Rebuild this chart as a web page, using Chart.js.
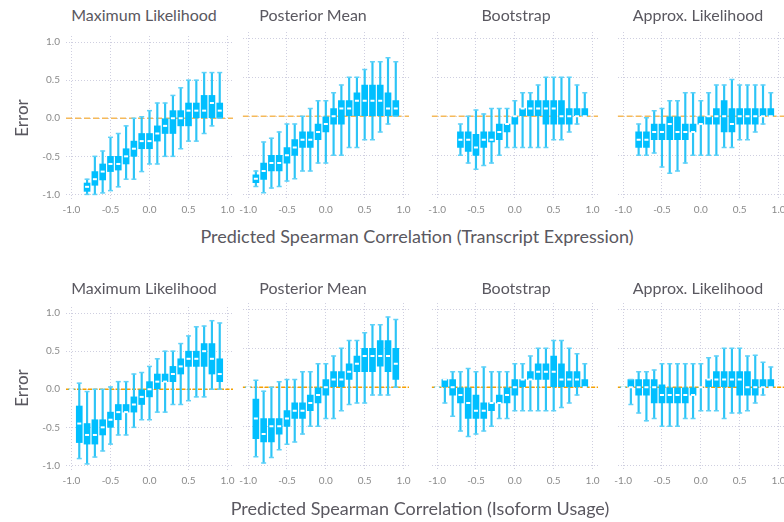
<!DOCTYPE html>
<html>
<head>
<meta charset="utf-8">
<script src="https://cdn.jsdelivr.net/npm/chart.js@4.4.1/dist/chart.umd.min.js"></script>
<style>
  body { margin: 0; background: #fff; width: 784px; height: 522px; position: relative; overflow: hidden; font-family: Lato, 'Open Sans', sans-serif; }
  canvas { position: absolute; }
  .lbl { position: absolute; color: #5a5860; white-space: nowrap; line-height: 1; transform: translate(-50%, -50%); }
  .panel-title { font-size: 16px; }
  .axis-title { font-size: 18px; }
  .y-title { font-size: 17px; transform: translate(-50%, -50%) rotate(-90deg); }
</style>
</head>
<body>
<script>
// bin centres (predicted correlation)
const binsFrom10 = [-1.0, -0.9, -0.8, -0.7, -0.6, -0.5, -0.4, -0.3, -0.2, -0.1, 0.0, 0.1, 0.2, 0.3, 0.4, 0.5, 0.6, 0.7, 0.8, 0.9];
const binsFrom09 = [-0.9, -0.8, -0.7, -0.6, -0.5, -0.4, -0.3, -0.2, -0.1, 0.0, 0.1, 0.2, 0.3, 0.4, 0.5, 0.6, 0.7, 0.8, 0.9];
const binsFrom08 = [-0.8, -0.7, -0.6, -0.5, -0.4, -0.3, -0.2, -0.1, 0.0, 0.1, 0.2, 0.3, 0.4, 0.5, 0.6, 0.7, 0.8, 0.9];
const binsFrom07 = [-0.7, -0.6, -0.5, -0.4, -0.3, -0.2, -0.1, 0.0, 0.1, 0.2, 0.3, 0.4, 0.5, 0.6, 0.7, 0.8, 0.9];
const tickValues = [-1.0, -0.5, 0.0, 0.5, 1.0];

// error per bin: [min, q1, median, q3, max]
const exprML = [
  [-1.0, -0.96, -0.9, -0.85, -0.8], [-1.0, -0.88, -0.8, -0.7, -0.5], [-0.98, -0.81, -0.7, -0.6, -0.43],
  [-0.95, -0.7, -0.6, -0.5, -0.25], [-0.9, -0.68, -0.6, -0.5, -0.2], [-0.8, -0.6, -0.5, -0.4, -0.1],
  [-0.8, -0.5, -0.4, -0.3, 0.0], [-0.7, -0.4, -0.3, -0.2, 0.02], [-0.6, -0.4, -0.3, -0.2, 0.1],
  [-0.6, -0.3, -0.2, -0.1, 0.2], [-0.5, -0.2, -0.1, 0.0, 0.2], [-0.5, -0.2, 0.0, 0.1, 0.3],
  [-0.4, -0.1, 0.0, 0.1, 0.4], [-0.3, -0.1, 0.1, 0.2, 0.5], [-0.3, 0.0, 0.1, 0.2, 0.5],
  [-0.2, 0.0, 0.1, 0.3, 0.6], [-0.1, 0.0, 0.2, 0.3, 0.6], [0.0, 0.0, 0.1, 0.2, 0.6]
];
const exprPM = [
  [-0.9, -0.85, -0.8, -0.75, -0.7], [-0.98, -0.81, -0.7, -0.6, -0.33], [-0.92, -0.7, -0.6, -0.5, -0.28],
  [-0.9, -0.7, -0.6, -0.5, -0.2], [-0.83, -0.6, -0.5, -0.4, -0.1], [-0.8, -0.5, -0.4, -0.3, -0.1],
  [-0.7, -0.4, -0.3, -0.2, 0.0], [-0.7, -0.4, -0.3, -0.2, 0.1], [-0.6, -0.3, -0.2, -0.1, 0.2],
  [-0.6, -0.2, -0.1, 0.0, 0.2], [-0.5, -0.1, 0.0, 0.1, 0.3], [-0.5, -0.1, 0.1, 0.2, 0.4],
  [-0.4, 0.0, 0.1, 0.2, 0.5], [-0.4, 0.0, 0.2, 0.3, 0.5], [-0.3, 0.0, 0.2, 0.4, 0.6],
  [-0.3, 0.0, 0.2, 0.4, 0.7], [-0.2, 0.0, 0.2, 0.4, 0.7], [-0.1, 0.0, 0.1, 0.3, 0.75],
  [0.0, 0.0, 0.1, 0.2, 0.7]
];
const exprBS = [
  [-0.5, -0.4, -0.3, -0.2, -0.1], [-0.6, -0.45, -0.3, -0.2, 0.0], [-0.68, -0.5, -0.4, -0.23, 0.08],
  [-0.63, -0.4, -0.3, -0.2, 0.03], [-0.6, -0.33, -0.3, -0.2, 0.1], [-0.5, -0.3, -0.2, -0.1, 0.1],
  [-0.4, -0.2, -0.1, -0.1, 0.1], [-0.4, -0.1, 0.0, 0.0, 0.2], [-0.4, 0.0, 0.1, 0.1, 0.3],
  [-0.4, 0.0, 0.1, 0.2, 0.3], [-0.4, 0.0, 0.1, 0.2, 0.4], [-0.4, -0.1, 0.1, 0.2, 0.5],
  [-0.3, -0.1, 0.1, 0.2, 0.5], [-0.3, -0.1, 0.0, 0.2, 0.5], [-0.2, -0.1, 0.0, 0.1, 0.5],
  [-0.1, 0.0, 0.0, 0.1, 0.4], [0.0, 0.0, 0.0, 0.1, 0.3]
];
const exprAL = [
  [-0.5, -0.4, -0.3, -0.2, -0.1], [-0.5, -0.4, -0.3, -0.2, -0.02], [-0.47, -0.3, -0.2, -0.1, 0.07],
  [-0.65, -0.3, -0.2, -0.1, 0.1], [-0.73, -0.3, -0.1, 0.0, 0.2], [-0.7, -0.3, -0.2, 0.0, 0.2],
  [-0.6, -0.3, -0.2, -0.1, 0.3], [-0.5, -0.2, -0.2, -0.1, 0.3], [-0.5, -0.1, -0.1, 0.0, 0.2],
  [-0.5, -0.1, 0.0, 0.0, 0.3], [-0.5, -0.1, 0.0, 0.1, 0.4], [-0.4, -0.2, 0.0, 0.2, 0.4],
  [-0.4, -0.2, -0.1, 0.1, 0.47], [-0.3, -0.1, 0.0, 0.1, 0.4], [-0.3, -0.1, 0.0, 0.1, 0.4],
  [-0.2, -0.1, 0.0, 0.1, 0.4], [-0.1, 0.0, 0.0, 0.1, 0.4], [0.0, 0.0, 0.0, 0.1, 0.3]
];
const usageML = [
  [0.0, 0.0, 0.0, 0.0, 0.0], [-0.91, -0.7, -0.45, -0.22, 0.08], [-0.98, -0.72, -0.6, -0.45, -0.03],
  [-0.89, -0.72, -0.6, -0.4, 0.0], [-0.81, -0.6, -0.5, -0.4, 0.0], [-0.72, -0.5, -0.4, -0.3, 0.03],
  [-0.6, -0.4, -0.3, -0.2, 0.1], [-0.6, -0.3, -0.3, -0.2, 0.1], [-0.5, -0.3, -0.2, -0.1, 0.2],
  [-0.4, -0.2, -0.1, 0.0, 0.22], [-0.4, -0.1, 0.0, 0.1, 0.3], [-0.3, 0.0, 0.1, 0.2, 0.4],
  [-0.3, 0.1, 0.1, 0.2, 0.5], [-0.2, 0.1, 0.2, 0.3, 0.5], [-0.2, 0.2, 0.3, 0.4, 0.6],
  [-0.15, 0.3, 0.4, 0.5, 0.7], [-0.1, 0.3, 0.4, 0.5, 0.82], [-0.1, 0.3, 0.5, 0.6, 0.83],
  [0.0, 0.2, 0.4, 0.6, 0.9], [0.0, 0.1, 0.2, 0.4, 0.87]
];
const usagePM = [
  [0.0, 0.0, 0.0, 0.0, 0.0], [-0.89, -0.66, -0.4, -0.15, 0.09], [-0.97, -0.7, -0.6, -0.4, -0.05],
  [-0.9, -0.7, -0.5, -0.4, 0.0], [-0.8, -0.6, -0.5, -0.4, 0.07], [-0.73, -0.5, -0.4, -0.3, 0.1],
  [-0.7, -0.4, -0.3, -0.2, 0.1], [-0.6, -0.4, -0.3, -0.2, 0.2], [-0.5, -0.3, -0.2, -0.1, 0.2],
  [-0.5, -0.2, -0.1, 0.0, 0.3], [-0.4, -0.1, 0.0, 0.1, 0.3], [-0.4, 0.0, 0.1, 0.2, 0.4],
  [-0.3, 0.0, 0.1, 0.2, 0.5], [-0.22, 0.1, 0.2, 0.3, 0.6], [-0.2, 0.2, 0.3, 0.4, 0.6],
  [-0.2, 0.2, 0.4, 0.5, 0.7], [-0.1, 0.2, 0.4, 0.5, 0.8], [-0.1, 0.27, 0.4, 0.6, 0.8],
  [-0.1, 0.2, 0.4, 0.6, 0.9], [0.0, 0.1, 0.3, 0.5, 0.87]
];
const usageBS = [
  [0.0, 0.0, 0.0, 0.0, 0.0], [-0.2, 0.0, 0.1, 0.1, 0.1], [-0.37, -0.1, 0.0, 0.1, 0.2],
  [-0.56, -0.2, -0.1, 0.0, 0.2], [-0.63, -0.4, -0.2, 0.0, 0.24], [-0.6, -0.4, -0.3, -0.1, 0.2],
  [-0.56, -0.4, -0.3, -0.2, 0.26], [-0.5, -0.3, -0.2, -0.2, 0.2], [-0.4, -0.2, -0.2, -0.1, 0.2],
  [-0.4, -0.2, -0.1, 0.0, 0.2], [-0.3, -0.1, 0.0, 0.1, 0.3], [-0.3, 0.0, 0.1, 0.1, 0.3],
  [-0.3, 0.1, 0.1, 0.2, 0.4], [-0.3, 0.1, 0.2, 0.3, 0.5], [-0.3, 0.1, 0.2, 0.3, 0.5],
  [-0.3, 0.0, 0.2, 0.4, 0.6], [-0.26, 0.0, 0.1, 0.3, 0.6], [-0.2, 0.0, 0.1, 0.2, 0.5],
  [-0.1, 0.0, 0.1, 0.2, 0.43], [0.0, 0.0, 0.0, 0.1, 0.3]
];
const usageAL = [
  [0.0, 0.0, 0.0, 0.0, 0.0], [-0.22, 0.0, 0.0, 0.1, 0.1], [-0.33, -0.1, 0.0, 0.1, 0.2],
  [-0.43, -0.1, 0.0, 0.1, 0.2], [-0.4, -0.2, 0.0, 0.1, 0.22], [-0.5, -0.2, -0.1, 0.03, 0.3],
  [-0.5, -0.2, -0.1, 0.0, 0.3], [-0.5, -0.2, -0.1, 0.0, 0.3], [-0.4, -0.2, -0.1, 0.0, 0.3],
  [-0.4, -0.1, -0.1, 0.0, 0.3], [-0.3, 0.0, 0.0, 0.0, 0.3], [-0.3, 0.0, 0.1, 0.1, 0.38],
  [-0.3, 0.0, 0.1, 0.2, 0.4], [-0.4, 0.0, 0.1, 0.2, 0.5], [-0.33, 0.0, 0.1, 0.2, 0.5],
  [-0.33, -0.1, 0.1, 0.2, 0.5], [-0.3, -0.1, 0.0, 0.2, 0.4], [-0.2, -0.1, 0.0, 0.1, 0.41],
  [-0.1, 0.0, 0.0, 0.1, 0.32], [0.0, 0.0, 0.0, 0.1, 0.26]
];

const methodTitles = ['Maximum Likelihood', 'Posterior Mean', 'Bootstrap', 'Approx. Likelihood'];
const rowTitles = ['Predicted Spearman Correlation (Transcript Expression)', 'Predicted Spearman Correlation (Isoform Usage)'];

const panels = [
  { bins: binsFrom08, stats: exprML, row: 0, col: 0 },
  { bins: binsFrom09, stats: exprPM, row: 0, col: 1 },
  { bins: binsFrom07, stats: exprBS, row: 0, col: 2 },
  { bins: binsFrom08, stats: exprAL, row: 0, col: 3 },
  { bins: binsFrom10, stats: usageML, row: 1, col: 0 },
  { bins: binsFrom10, stats: usagePM, row: 1, col: 1 },
  { bins: binsFrom10, stats: usageBS, row: 1, col: 2 },
  { bins: binsFrom10, stats: usageAL, row: 1, col: 3 }
];

// layout (pixel where x = -1.0 / y = 1.0 lands)
const colZero = [71.5, 247.3, 436, 622.3];
const rowTop = [38.3, 309];
const titleX = [144, 313, 516, 698];
const pxPerUnit = 78;
const X_MIN = -1.07, X_MAX = 1.07, Y_MIN = -1.06, Y_MAX = 1.08;
const PAD = 8, X_AXIS_H = 22, Y_AXIS_W = 40;

const boxColor = '#00bfff';
const whiskerColor = '#2cc4f6';
const capColor = '#5fd1f8';
const gridColor = '#cfcfe0';
const zeroColors = ['#f5b95a', '#f5a000'];
const zeroDash = [[6, 3], [4, 1.5]];

function addLabel(text, cls, x, y) {
  const d = document.createElement('div');
  d.className = 'lbl ' + cls;
  d.textContent = text;
  d.style.left = x + 'px';
  d.style.top = y + 'px';
  document.body.appendChild(d);
}

function makePanel(p) {
  const yw = p.col === 0 ? Y_AXIS_W : 0;
  const areaW = Math.round((X_MAX - X_MIN) * pxPerUnit);
  const areaH = Math.round((Y_MAX - Y_MIN) * pxPerUnit);
  const canvas = document.createElement('canvas');
  canvas.width = PAD * 2 + yw + areaW;
  canvas.height = PAD + areaH + X_AXIS_H;
  canvas.style.left = Math.round(colZero[p.col] + (X_MIN + 1) * pxPerUnit - yw - PAD) + 'px';
  canvas.style.top = Math.round(rowTop[p.row] - (Y_MAX - 1) * pxPerUnit - PAD) + 'px';
  document.body.appendChild(canvas);

  const whiskers = p.bins.map((x, i) => ({ x: x, y: [p.stats[i][0], p.stats[i][4]] }));
  const boxes = p.bins.map((x, i) => ({ x: x, y: [p.stats[i][1], p.stats[i][3]] }));
  const caps = p.bins.flatMap((x, i) => [{ x: x, y: p.stats[i][0] }, { x: x, y: p.stats[i][4] }]);
  const medians = p.bins.map((x, i) => ({ x: x, y: p.stats[i][2] }));

  const tickFont = { family: 'Lato', size: 10 };

  new Chart(canvas, {
    type: 'bar',
    data: {
      datasets: [
        {
          type: 'line', data: [{ x: X_MIN, y: 0 }, { x: X_MAX, y: 0 }],
          borderColor: zeroColors[p.row], borderWidth: 1.5, borderDash: zeroDash[p.row],
          pointRadius: 0, order: 5
        },
        {
          data: whiskers, backgroundColor: whiskerColor, grouped: false,
          categoryPercentage: 1, barPercentage: 1, maxBarThickness: 1.5, order: 4
        },
        {
          data: boxes, backgroundColor: boxColor, grouped: false,
          categoryPercentage: 1, barPercentage: 1, maxBarThickness: 6, order: 3
        },
        {
          type: 'scatter', data: caps, pointStyle: 'line', pointRadius: 2.5,
          borderColor: capColor, borderWidth: 1.5, order: 2
        },
        {
          type: 'scatter', data: medians, pointStyle: 'line', pointRadius: 2,
          borderColor: '#ffffff', borderWidth: 2, order: 1
        }
      ]
    },
    options: {
      responsive: false,
      animation: false,
      devicePixelRatio: 1,
      events: [],
      layout: { padding: { top: PAD, left: PAD, right: PAD, bottom: 0 }, autoPadding: false },
      plugins: { legend: { display: false }, tooltip: { enabled: false }, title: { display: false } },
      scales: {
        x: {
          type: 'linear', min: X_MIN, max: X_MAX, offset: false,
          grid: { color: gridColor, offset: false, drawTicks: false },
          border: { display: false, dash: [1, 2] },
          afterBuildTicks: s => { s.ticks = tickValues.map(v => ({ value: v })); },
          afterFit: s => { s.height = X_AXIS_H; },
          ticks: { padding: 5, color: '#8a8a8a', font: tickFont, maxRotation: 0, autoSkip: false,
                   callback: v => v.toFixed(1) }
        },
        y: {
          type: 'linear', min: Y_MIN, max: Y_MAX,
          grid: { color: gridColor, drawTicks: false },
          border: { display: false, dash: [1, 2] },
          afterBuildTicks: s => { s.ticks = tickValues.map(v => ({ value: v })); },
          afterFit: s => { s.width = yw; },
          ticks: { display: p.col === 0, padding: 6, color: '#8a8a8a', font: tickFont,
                   callback: v => v.toFixed(1) }
        }
      }
    }
  });
}

panels.forEach(makePanel);

// texts
[15, 288].forEach(y => methodTitles.forEach((t, i) => addLabel(t, 'panel-title', titleX[i], y)));
addLabel(rowTitles[0], 'axis-title', 417, 236);
addLabel(rowTitles[1], 'axis-title', 420, 508);
addLabel('Error', 'y-title', 21, 118);
addLabel('Error', 'y-title', 21, 388);
</script>
</body>
</html>
